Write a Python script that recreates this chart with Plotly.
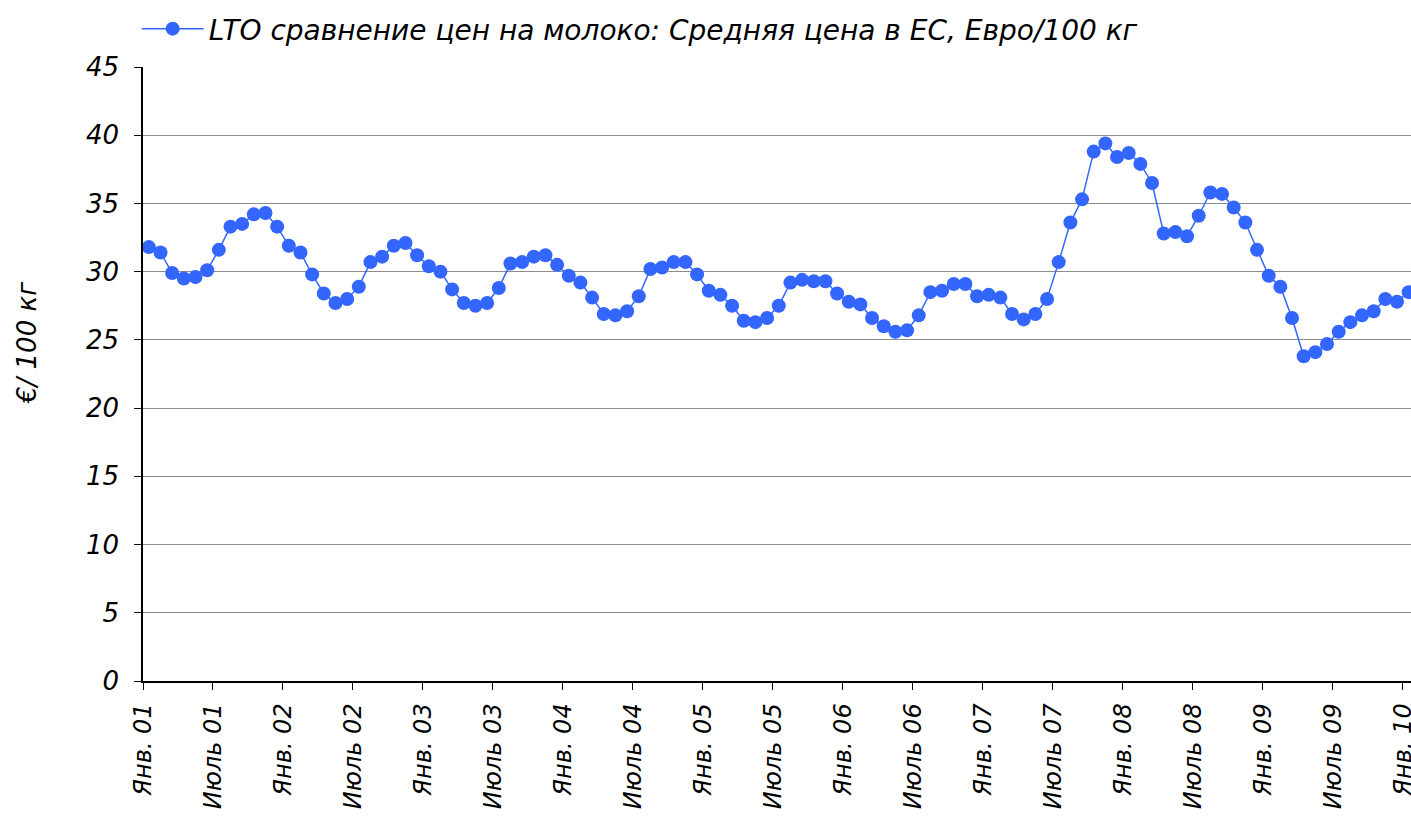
import plotly.graph_objects as go

prices = [
    31.8, 31.4, 29.9, 29.5, 29.6, 30.1, 31.6, 33.3, 33.5, 34.2, 34.3, 33.3,  # 2001
    31.9, 31.4, 29.8, 28.4, 27.7, 28.0, 28.9, 30.7, 31.1, 31.9, 32.1, 31.2,  # 2002
    30.4, 30.0, 28.7, 27.7, 27.5, 27.7, 28.8, 30.6, 30.7, 31.1, 31.2, 30.5,  # 2003
    29.7, 29.2, 28.1, 26.9, 26.8, 27.1, 28.2, 30.2, 30.3, 30.7, 30.7, 29.8,  # 2004
    28.6, 28.3, 27.5, 26.4, 26.3, 26.6, 27.5, 29.2, 29.4, 29.3, 29.3, 28.4,  # 2005
    27.8, 27.6, 26.6, 26.0, 25.6, 25.7, 26.8, 28.5, 28.6, 29.1, 29.1, 28.2,  # 2006
    28.3, 28.1, 26.9, 26.5, 26.9, 28.0, 30.7, 33.6, 35.3, 38.8, 39.4, 38.4,  # 2007
    38.7, 37.9, 36.5, 32.8, 32.9, 32.6, 34.1, 35.8, 35.7, 34.7, 33.6, 31.6,  # 2008
    29.7, 28.9, 26.6, 23.8, 24.1, 24.7, 25.6, 26.3, 26.8, 27.1, 28.0, 27.8,  # 2009
    28.5,                                                                    # 2010
]
tick_labels = [
    "Янв. 01", "Июль 01", "Янв. 02", "Июль 02", "Янв. 03", "Июль 03",
    "Янв. 04", "Июль 04", "Янв. 05", "Июль 05", "Янв. 06", "Июль 06",
    "Янв. 07", "Июль 07", "Янв. 08", "Июль 08", "Янв. 09", "Июль 09",
    "Янв. 10",
]
series_name = "LTO сравнение цен на молоко: Средняя цена в ЕС, Евро/100 кг"
y_title = "€/ 100 кг"

months = [i + 0.5 for i in range(len(prices))]
tick_pos = [i * 6 for i in range(len(tick_labels))]

FONT = "DejaVu Sans"
blue = "#3366FF"

fig = go.Figure()
fig.add_trace(go.Scatter(
    x=months, y=prices, mode="lines+markers", name=series_name,
    line=dict(color=blue, width=1.5),
    marker=dict(color=blue, size=14),
    cliponaxis=True,
))

fig.update_layout(
    width=1411, height=816,
    margin=dict(l=143, r=0, t=67, b=135, autoexpand=False),
    paper_bgcolor="white", plot_bgcolor="white",
    font=dict(family=FONT, size=26, color="black", style="italic"),
    showlegend=True,
    legend=dict(
        orientation="h", x=-0.005, xanchor="left", y=1.062, yanchor="middle",
        font=dict(family=FONT, size=28, style="italic"),
        bgcolor="rgba(0,0,0,0)", itemwidth=62,
    ),
    annotations=[dict(
        text=y_title, textangle=-90, showarrow=False,
        xref="paper", yref="paper", x=0, y=0.5505,
        xanchor="center", yanchor="middle", xshift=-116,
        font=dict(family=FONT, size=26, style="italic", color="black"),
    )],
)
fig.update_xaxes(
    range=[0, 108.7], tickmode="array", tickvals=tick_pos, ticktext=tick_labels,
    tickangle=-90, ticks="outside", ticklen=7, tickcolor="black",
    showline=True, linecolor="black", linewidth=1.5, showgrid=False, zeroline=False,
    tickfont=dict(family=FONT, size=24, style="italic"), automargin=False,
    ticklabeloverflow="allow", ticklabelstandoff=4,
)
fig.update_yaxes(
    range=[0, 45], tickmode="array", tickvals=list(range(0, 50, 5)),
    ticks="outside", ticklen=7, tickcolor="black",
    showline=True, linecolor="black", linewidth=1.5,
    showgrid=True, gridcolor="#8c8c8c", gridwidth=1.2, zeroline=False,
    tickfont=dict(family=FONT, size=26, style="italic"), automargin=False,
    ticklabelstandoff=10,
)

fig.write_html(
    "out.html",
    config={"displayModeBar": False},
    post_script="document.body.style.margin='0';document.body.style.overflow='hidden';",
)
